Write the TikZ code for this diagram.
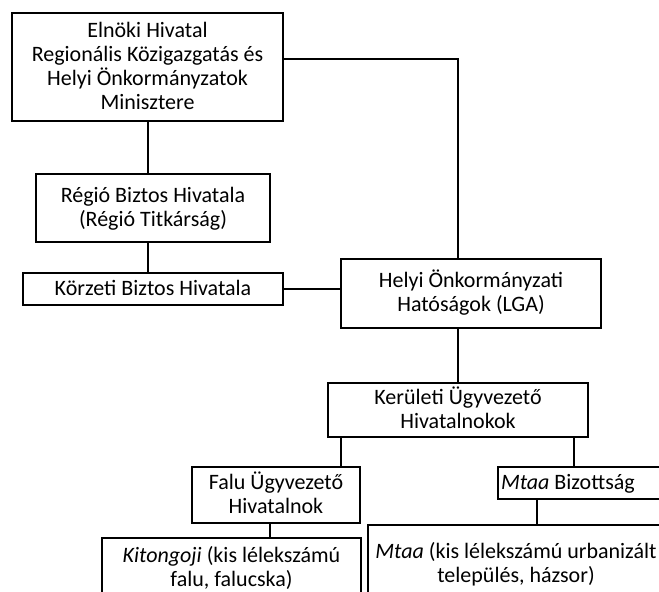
\documentclass[tikz,border=0pt]{standalone}
\usepackage{fontspec}
\setmainfont{Carlito}
\usetikzlibrary{positioning}

\begin{document}
\begin{tikzpicture}[x=1pt, y=-1pt,
                    office/.style = {draw, line width = 2pt, align = flush center, inner sep = 0pt,
                                     text height = 16pt, text depth = 4pt,
                                     font = \fontsize{22}{24}\selectfont},
                    two lines/.style = {text height = 40pt},
                    four lines/.style = {text height = 88pt},
                    link/.style = {line width = 2pt}]
    \useasboundingbox (0,0) rectangle (659,592);
    \clip (0,0) rectangle (659,592);
    % offices
    \node[office, four lines, minimum width = 271pt, minimum height = 108pt] (ministry) at (147.5,67)
        {Elnöki Hivatal\\Regionális Közigazgatás és\\Helyi Önkormányzatok\\Minisztere};
    \node[office, two lines, minimum width = 234pt, minimum height = 68pt] (regio) at (153,208)
        {Régió Biztos Hivatala\\(Régió Titkárság)};
    \node[office, minimum width = 260pt, minimum height = 32pt] (korzeti) at (153,289)
        {Körzeti Biztos Hivatala};
    \node[office, two lines, minimum width = 260pt, minimum height = 69pt] (lga) at (471,293)
        {Helyi Önkormányzati\\Hatóságok (LGA)};
    \node[office, two lines, minimum width = 260pt, minimum height = 54pt] (kerul) at (458,410)
        {Kerületi Ügyvezető\\Hivatalnokok};
    \node[office, two lines, minimum width = 168pt, minimum height = 56pt] (falu) at (276,495)
        {Falu Ügyvezető\\Hivatalnok};
    \node[office, anchor = west, text width = 170pt, align = flush left, inner xsep = 3pt,
          minimum height = 32pt] (mbiz) at (497,483)
        {\textit{Mtaa} Bizottság};
    \node[office, two lines, minimum width = 259pt, minimum height = 60pt] (kit) at (231.5,568)
        {\textit{Kitongoji} (kis lélekszámú\\falu, falucska)};
    \node[office, text depth = 28pt, anchor = west, text width = 296pt, minimum height = 78pt] (mtaa) at (367,564)
        {\textit{Mtaa} (kis lélekszámú urbanizált\\település, házsor)};
    % connectors
    \coordinate (corner) at (458,59);
    \coordinate (fork l) at (341,0);
    \coordinate (fork r) at (574,0);
    \coordinate (drop k) at (270,0);
    \coordinate (drop m) at (537,0);
    \draw[link] (ministry.east |- corner) -- (corner) -- (corner |- lga.north);
    \draw[link] (ministry.south) -- (ministry.south |- regio.north);
    \draw[link] (ministry.south |- regio.south) -- (ministry.south |- korzeti.north);
    \draw[link] (korzeti.east) -- (korzeti.east -| lga.west);
    \draw[link] (kerul.north |- lga.south) -- (kerul.north);
    \draw[link] (kerul.south -| fork l) -- (falu.north -| fork l);
    \draw[link] (kerul.south -| fork r) -- (mbiz.north -| fork r);
    \draw[link] (falu.south -| drop k) -- (kit.north -| drop k);
    \draw[link] (mbiz.south -| drop m) -- (mtaa.north -| drop m);
\end{tikzpicture}
\end{document}
